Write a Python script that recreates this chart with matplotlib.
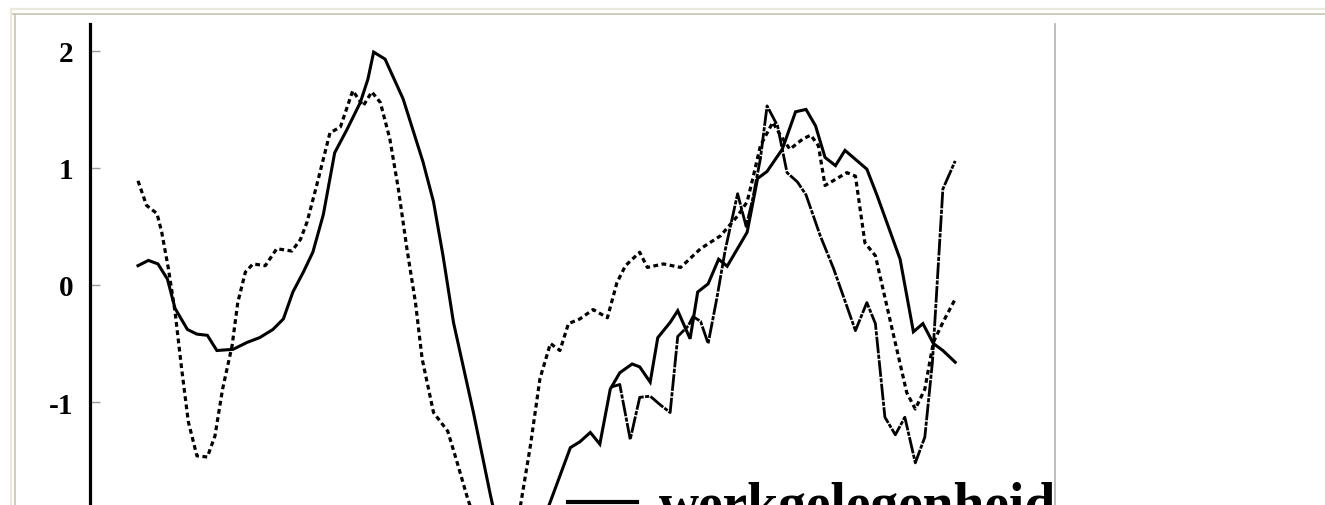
import matplotlib
matplotlib.use("Agg")
import matplotlib.pyplot as plt
from matplotlib.lines import Line2D

# ---- data (time index in quarters) ----
solid_t = [0.0, 1.1, 2.1, 3.1, 3.9, 5.2, 6.2, 7.3, 8.3, 10.0, 11.5, 12.8, 14.2, 15.3,
           16.3, 17.4, 18.4, 19.5, 20.7, 22.0, 23.4, 24.2, 24.8, 26.0, 27.9, 30.0, 31.1,
           32.1, 33.2, 35.3, 37.1, 38.6, 40.2, 41.8, 43.4, 45.5, 46.5, 47.6, 48.6, 49.7,
           50.7, 52.0, 52.8, 53.9, 54.7, 56.0, 56.8, 58.1, 58.9, 60.0, 61.1, 62.0, 64.1,
           65.2, 66.2, 67.8, 69.2, 70.3, 71.3, 72.3, 73.4, 74.4, 76.7, 77.8, 80.2, 81.6,
           82.6, 83.7, 84.7, 86.0]
solid_v = [0.165, 0.21, 0.18, 0.05, -0.20, -0.38, -0.42, -0.43, -0.56, -0.55, -0.49, -0.45,
           -0.38, -0.29, -0.06, 0.11, 0.28, 0.60, 1.13, 1.33, 1.56, 1.76, 1.99, 1.93, 1.59,
           1.05, 0.71, 0.25, -0.32, -1.09, -1.80, -2.35, -2.50, -2.20, -1.85, -1.39, -1.34,
           -1.26, -1.36, -0.89, -0.75, -0.675, -0.70, -0.83, -0.45, -0.32, -0.22, -0.46,
           -0.06, 0.01, 0.22, 0.16, 0.45, 0.91, 0.97, 1.16, 1.48, 1.50, 1.36, 1.09, 1.02,
           1.15, 0.99, 0.76, 0.22, -0.40, -0.33, -0.50, -0.56, -0.66]

dashed_t = [0.0, 0.9, 2.0, 2.5, 3.2, 3.9, 4.6, 5.3, 6.2, 7.3, 8.1, 8.9, 9.9, 10.5, 11.3,
            12.1, 13.4, 14.6, 16.2, 17.1, 17.8, 18.8, 20.2, 21.3, 22.6, 23.7, 24.6, 25.5,
            26.5, 27.4, 28.3, 29.2, 29.9, 31.1, 32.6, 33.6, 34.6, 36.0, 37.6, 39.2, 40.3,
            41.3, 42.3, 43.4, 44.4, 45.3, 46.5, 47.9, 49.4, 50.4, 51.3, 52.8, 53.6, 55.3,
            57.1, 59.2, 61.3, 63.1, 64.1, 64.7, 65.5, 66.8, 67.6, 68.6, 70.0, 70.8, 71.6,
            72.3, 74.6, 75.5, 76.5, 77.6, 79.2, 80.9, 81.8, 82.8, 83.7, 84.7, 86.0]
dashed_v = [0.89, 0.68, 0.61, 0.45, 0.14, -0.23, -0.72, -1.17, -1.46, -1.47, -1.29, -0.89,
            -0.52, -0.15, 0.11, 0.18, 0.165, 0.31, 0.29, 0.39, 0.54, 0.85, 1.30, 1.35, 1.66,
            1.53, 1.65, 1.56, 1.25, 0.82, 0.31, -0.15, -0.63, -1.09, -1.25, -1.52, -1.80,
            -2.15, -2.50, -2.40, -1.86, -1.37, -0.80, -0.50, -0.56, -0.33, -0.29, -0.21,
            -0.28, 0.02, 0.165, 0.28, 0.15, 0.18, 0.15, 0.31, 0.42, 0.59, 0.71, 0.91, 1.19,
            1.39, 1.28, 1.16, 1.25, 1.28, 1.19, 0.85, 0.96, 0.93, 0.36, 0.25, -0.32, -0.92,
            -1.06, -0.89, -0.49, -0.32, -0.12]

dashdot_t = [49.9, 50.7, 51.8, 52.8, 53.9, 54.9, 56.0, 56.8, 57.9, 58.4, 59.2, 60.0, 60.9,
             61.8, 63.1, 64.0, 64.7, 65.5, 66.2, 67.3, 68.3, 69.4, 70.3, 71.8, 73.2, 75.5,
             76.7, 77.6, 78.6, 79.7, 80.7, 81.8, 82.8, 83.6, 84.7, 86.0]
dashdot_v = [-0.87, -0.85, -1.32, -0.96, -0.95, -1.02, -1.09, -0.44, -0.35, -0.27, -0.31,
             -0.50, -0.12, 0.30, 0.78, 0.50, 0.74, 1.08, 1.53, 1.36, 0.96, 0.88, 0.77, 0.42,
             0.14, -0.39, -0.15, -0.33, -1.13, -1.28, -1.13, -1.52, -1.30, -0.66, 0.82, 1.06]

ytick_vals = [-1, 0, 1, 2]
ytick_labels = ["-1", "0", "1", "2"]
legend_label = "werkgelegenheid"

# ---- figure ----
W, H = 1325, 506
fig = plt.figure(figsize=(W / 100, H / 100), dpi=100)
fig.patch.set_facecolor("white")

ax = fig.add_axes([90 / W, 0.0, (1055 - 90) / W, (506 - 25) / H])
ax.set_xlim(-5.05, 96.5)
ax.set_ylim(-1.88, 2.23)

serif = ["Liberation Serif", "DejaVu Serif"]

ax.plot(solid_t, solid_v, color="black", lw=2.2, solid_joinstyle="miter",
        label=legend_label)
ax.plot(dashed_t, dashed_v, color="black", lw=2.3, linestyle=(0, (1.5, 1.1)))
ax.plot(dashdot_t, dashdot_v, color="black", lw=2.0, linestyle=(0, (6, 0.5, 1.5, 0.5)))

ax.set_yticks(ytick_vals)
ax.set_yticklabels(ytick_labels, fontfamily=serif, fontweight="bold", fontsize=21)
ax.set_xticks([])
ax.tick_params(axis="y", direction="in", length=7, width=1, color="#9a9a9a", pad=12)

for s in ["top", "bottom"]:
    ax.spines[s].set_visible(False)
ax.spines["left"].set_linewidth(2.3)
ax.spines["left"].set_color("black")
ax.spines["right"].set_linewidth(1.2)
ax.spines["right"].set_color("#b0b0b0")

leg = ax.legend(loc="upper left", bbox_to_anchor=((568 - 90) / 965, (506 - 482) / 481),
                frameon=False, borderpad=0, borderaxespad=0, handlelength=1.24,
                handletextpad=0.40,
                prop={"family": serif, "weight": "bold", "size": 40})
leg.get_lines()[0].set_linewidth(3.0)

# screenshot frame (beige double border on top and left)
fig.add_artist(Line2D([12 / W, 1], [1 - 10 / H, 1 - 10 / H], transform=fig.transFigure,
                      color="#ebe8dc", lw=1.6))
fig.add_artist(Line2D([12 / W, 1], [1 - 14.5 / H, 1 - 14.5 / H], transform=fig.transFigure,
                      color="#c9c5b3", lw=1.2))
fig.add_artist(Line2D([11 / W, 11 / W], [0, 1 - 10 / H], transform=fig.transFigure,
                      color="#ebe8dc", lw=1.6))
fig.add_artist(Line2D([14.5 / W, 14.5 / W], [0, 1 - 14.5 / H], transform=fig.transFigure,
                      color="#c9c5b3", lw=1.2))

fig.savefig("out.png", dpi=100)
